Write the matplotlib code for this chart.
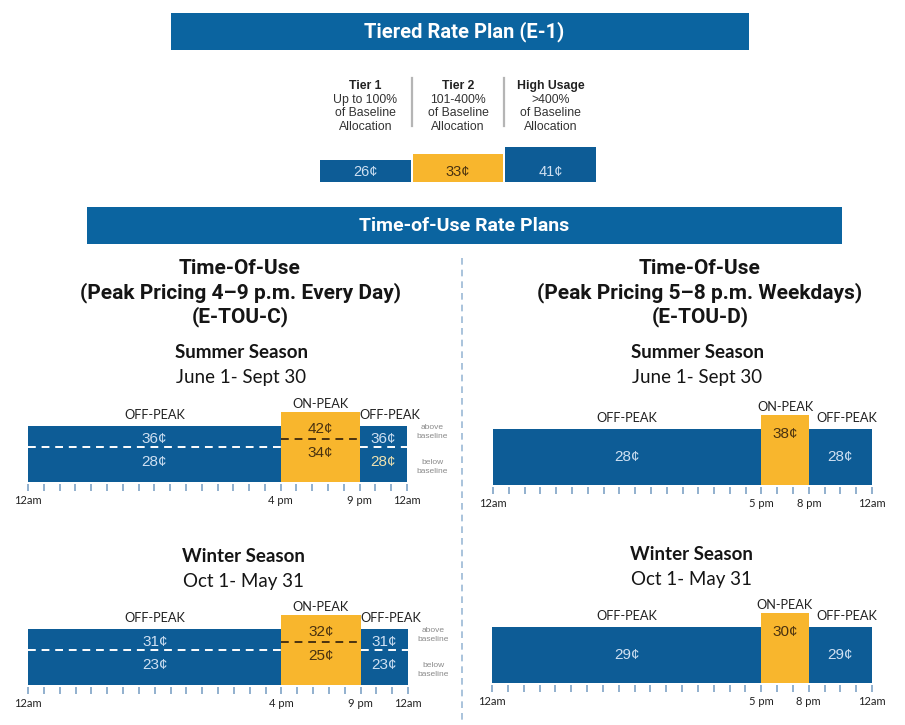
import matplotlib
matplotlib.use("Agg")
import matplotlib.pyplot as plt
from matplotlib.patches import Rectangle
from matplotlib.transforms import blended_transform_factory
import matplotlib.ticker as mticker

W, H = 905, 725

# ---------------- data ----------------
tier_names = ["Tier 1", "Tier 2", "High Usage"]
tier_desc = ["Up to 100%\nof Baseline\nAllocation",
             "101-400%\nof Baseline\nAllocation",
             ">400%\nof Baseline\nAllocation"]
tier_prices = [26, 33, 41]

touc_bounds = [0, 16, 21, 24]
touc_periods = ["OFF-PEAK", "ON-PEAK", "OFF-PEAK"]
touc_summer_above = [36, 42, 36]
touc_summer_below = [28, 34, 28]
touc_winter_above = [31, 32, 31]
touc_winter_below = [23, 25, 23]
touc_tick_hours = [0, 16, 21, 24]
touc_tick_labels = ["12am", "4 pm", "9 pm", "12am"]

toud_bounds = [0, 17, 20, 24]
toud_periods = ["OFF-PEAK", "ON-PEAK", "OFF-PEAK"]
toud_summer = [28, 38, 28]
toud_winter = [29, 30, 29]
toud_tick_hours = [0, 17, 20, 24]
toud_tick_labels = ["12am", "5 pm", "8 pm", "12am"]

# ---------------- style ----------------
BANNER = "#0b64a0"
BLUE = "#0d5c96"
YELLOW = "#f8b62d"
LIGHT = "#cfe0f2"
BROWN = "#4a3210"
TICKC = "#7fa3c6"
TITLE_FONT = "Roboto"
BODY_FONT = "Lato"
NUM_FONT = "Liberation Sans"

fig = plt.figure(figsize=(W / 100, H / 100), dpi=100)
fig.patch.set_facecolor("white")

bg = fig.add_axes([0, 0, 1, 1])
bg.set_xlim(0, W)
bg.set_ylim(H, 0)
bg.axis("off")


def px_axes(x0, y0, x1, y1):
    return fig.add_axes([x0 / W, 1 - y1 / H, (x1 - x0) / W, (y1 - y0) / H])


# ---------------- banners ----------------
bg.add_patch(Rectangle((171, 13), 578, 37, color=BANNER, lw=0))
bg.text(464, 32, "Tiered Rate Plan (E-1)", color="white", fontsize=14.5,
        fontweight="bold", family=TITLE_FONT, ha="center", va="center")
bg.add_patch(Rectangle((87, 207), 755, 37, color=BANNER, lw=0))
bg.text(464, 226, "Time-of-Use Rate Plans", color="white", fontsize=14,
        fontweight="bold", family=TITLE_FONT, ha="center", va="center")

# ---------------- tiered bars ----------------
tax = px_axes(319, 139, 597, 182)
tax.set_xlim(-0.5, 2.5)
tax.set_ylim(0, 50)
tax.axis("off")
tcolors = [BLUE, YELLOW, BLUE]
tax.bar(range(len(tier_prices)), tier_prices, width=0.975, color=tcolors, lw=0)
mix = blended_transform_factory(tax.transData, bg.transData)
for i, p in enumerate(tier_prices):
    tax.text(i, 11.5, f"{p}¢", ha="center", va="center", fontsize=10.5,
             family=NUM_FONT, color=BROWN if tcolors[i] == YELLOW else LIGHT)
    bg.text(i, 86, tier_names[i], transform=mix, ha="center", va="center",
            fontsize=8.8, fontweight="bold", family=NUM_FONT, color="#222222")
    bg.text(i, 93.5, tier_desc[i], transform=mix, ha="center", va="top",
            fontsize=8.8, family=NUM_FONT, color="#333333", linespacing=1.2)
for xs in (0.5, 1.5):
    bg.plot([xs, xs], [78, 126], transform=mix, color="#b5b5b5", lw=1.6)

# ---------------- divider ----------------
bg.plot([462, 462], [258, 722], color="#9bb9d5", lw=1.2, ls=(0, (4, 3)))

# ---------------- titles ----------------
def title_block(cx, lines, y0):
    for j, t in enumerate(lines):
        bg.text(cx, y0 + 24.5 * j, t, ha="center", va="center", fontsize=15,
                fontweight="bold", family=TITLE_FONT, color="#151515")


title_block(240, ["Time-Of-Use", "(Peak Pricing 4–9 p.m. Every Day)", "(E-TOU-C)"], 268)
title_block(700, ["Time-Of-Use", "(Peak Pricing 5–8 p.m. Weekdays)", "(E-TOU-D)"], 268)


def season(cx, y, name, dates):
    bg.text(cx, y, name, ha="center", va="center", fontsize=13.5,
            fontweight="bold", family=BODY_FONT, color="#151515")
    bg.text(cx, y + 25, dates, ha="center", va="center", fontsize=13.5,
            family=BODY_FONT, color="#151515")


season(241, 352, "Summer Season", "June 1- Sept 30")
season(697, 352, "Summer Season", "June 1- Sept 30")
season(243, 557, "Winter Season", "Oct 1- May 31")
season(691, 554, "Winter Season", "Oct 1- May 31")

# ---------------- timelines ----------------
OFF_H, ON_H = 56, 70


def timeline(x0, x1, ybot, bounds, periods, ticks_h, ticks_l,
             above=None, below=None, single=None, right_below_color=None):
    ax = px_axes(x0, ybot - ON_H, x1, ybot + 2)
    ax.set_xlim(0, 24)
    ax.set_ylim(-2, ON_H)
    for s in ax.spines.values():
        s.set_visible(False)
    ax.set_facecolor("none")
    for i, (a, b) in enumerate(zip(bounds[:-1], bounds[1:])):
        on = periods[i] == "ON-PEAK"
        h = ON_H if on else OFF_H
        ax.bar(a, h, width=b - a, align="edge", color=YELLOW if on else BLUE,
               lw=0, zorder=2 if on else 1)
        cx = (a + b) / 2
        txtc = BROWN if on else LIGHT
        ax.text(cx + (0.4 if i == 2 else 0), h + (8 if on else 11), periods[i],
                ha="center", va="center", fontsize=9.2, family=BODY_FONT,
                color="#222222", clip_on=False)
        if single is not None:
            ax.text(cx, 51 if on else 28, f"{single[i]}¢", ha="center",
                    va="center", fontsize=11, family=NUM_FONT, color=txtc, zorder=3)
        else:
            ax.text(cx, 53 if on else 43, f"{above[i]}¢", ha="center",
                    va="center", fontsize=11, family=NUM_FONT, color=txtc, zorder=3)
            bc = txtc
            if i == 2 and right_below_color:
                bc = right_below_color
            ax.text(cx, 29 if on else 20, f"{below[i]}¢", ha="center",
                    va="center", fontsize=11, family=NUM_FONT, color=bc, zorder=3)
            ax.hlines(43 if on else 35, a, b, colors=BROWN if on else "white",
                      lw=1.4, linestyles=(0, (4, 3)), zorder=2.5)
    if single is None:
        ax.text(25.6, 50, "above\nbaseline", ha="center", va="center",
                fontsize=6, family=NUM_FONT, color="#8a8a8a",
                linespacing=1.25, clip_on=False)
        ax.text(25.6, 15, "below\nbaseline", ha="center", va="center",
                fontsize=6, family=NUM_FONT, color="#8a8a8a",
                linespacing=1.25, clip_on=False)
    ax.xaxis.set_major_locator(mticker.FixedLocator(ticks_h))
    ax.xaxis.set_major_formatter(mticker.FixedFormatter(ticks_l))
    ax.xaxis.set_minor_locator(mticker.MultipleLocator(1))
    ax.tick_params(axis="x", which="both", direction="out", length=5,
                   width=1.2, color=TICKC)
    ax.tick_params(axis="x", which="major", labelsize=8, pad=3,
                   labelcolor="#222222")
    for lab in ax.get_xticklabels():
        lab.set_family(BODY_FONT)
    ax.set_yticks([])
    return ax


timeline(28, 407, 482, touc_bounds, touc_periods, touc_tick_hours,
         touc_tick_labels, above=touc_summer_above, below=touc_summer_below,
         right_below_color="#efe2b0")
timeline(28, 408, 685, touc_bounds, touc_periods, touc_tick_hours,
         touc_tick_labels, above=touc_winter_above, below=touc_winter_below)
timeline(493, 872, 485, toud_bounds, toud_periods, toud_tick_hours,
         toud_tick_labels, single=toud_summer)
timeline(492, 872, 683, toud_bounds, toud_periods, toud_tick_hours,
         toud_tick_labels, single=toud_winter)

fig.savefig("out.png", dpi=100, facecolor="white")
